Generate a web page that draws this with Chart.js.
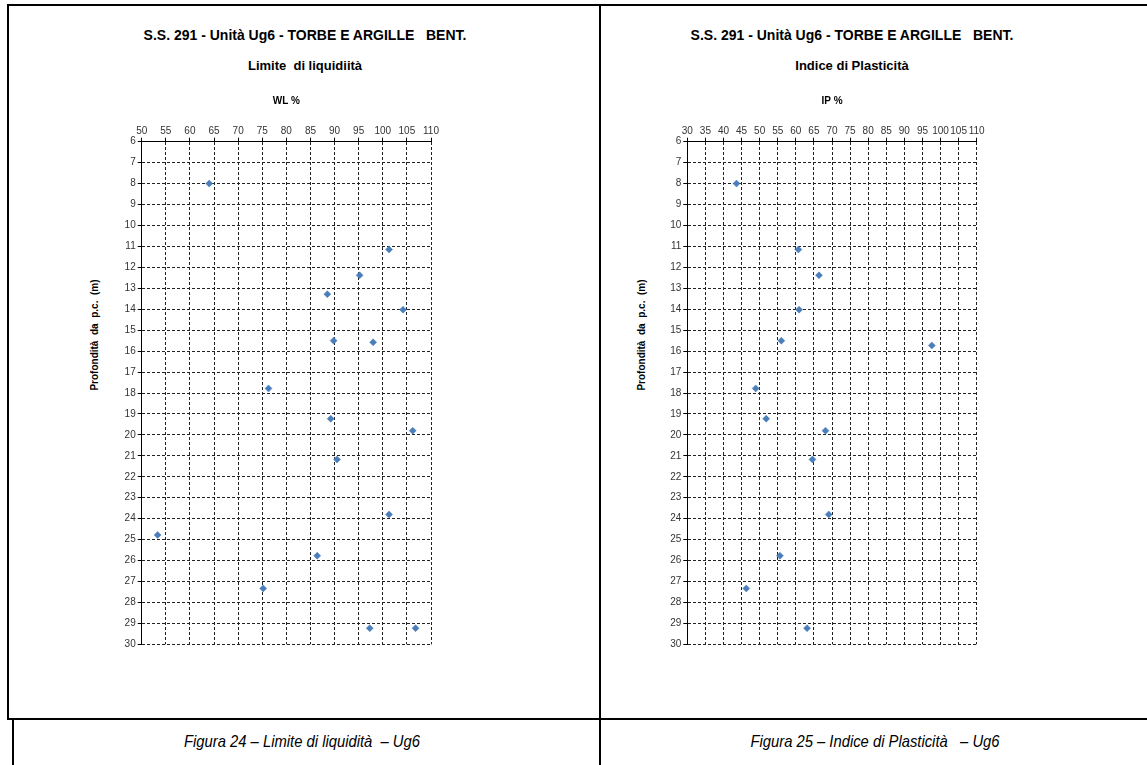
<!DOCTYPE html>
<html>
<head>
<meta charset="utf-8">
<title>Ug6 - Limite di liquidità / Indice di Plasticità</title>
<script src="https://cdn.jsdelivr.net/npm/chart.js@4/dist/chart.umd.min.js"></script>
<style>
body { margin:0; width:1147px; height:765px; position:relative; overflow:hidden; background:#fff;
       font-family:"Liberation Sans", Arial, sans-serif; color:#000; }
.rule { position:absolute; background:#000; }
.head { position:absolute; width:400px; text-align:center; font-weight:bold; font-size:14px; line-height:16px; white-space:pre; }
.side { position:absolute; font-weight:bold; font-size:10px; white-space:pre; transform:translate(-50%,-50%) rotate(-90deg); }
.caption { position:absolute; top:731px; line-height:22px; text-align:center; font-style:italic; font-size:17px;
           white-space:pre; transform:scaleX(0.87); }
canvas { position:absolute; }
</style>
</head>
<body>

<!-- table lines -->
<div class="rule" style="left:7px;top:4px;width:1140px;height:2px"></div>
<div class="rule" style="left:7px;top:4px;width:2px;height:716px"></div>
<div class="rule" style="left:599px;top:4px;width:2px;height:761px"></div>
<div class="rule" style="left:7px;top:718px;width:1140px;height:2px"></div>
<div class="rule" style="left:12px;top:720px;width:2px;height:45px"></div>

<!-- left panel -->
<div class="head" style="left:105px;top:27px">S.S. 291 - Unità Ug6 - TORBE E ARGILLE   BENT.</div>
<div class="head" style="left:105px;top:58px;font-size:13px">Limite  di liquidiità</div>
<div class="side" style="left:94px;top:335px">Profondità  da  p.c.  (m)</div>
<canvas id="chartWL" width="360" height="570" style="left:90px;top:85px"></canvas>

<!-- right panel -->
<div class="head" style="left:652px;top:27px">S.S. 291 - Unità Ug6 - TORBE E ARGILLE   BENT.</div>
<div class="head" style="left:652px;top:58px;font-size:13px">Indice di Plasticità</div>
<div class="side" style="left:641px;top:335px">Profondità  da  p.c.  (m)</div>
<canvas id="chartIP" width="360" height="570" style="left:640px;top:85px"></canvas>

<div class="caption" style="left:9px;width:586px">Figura 24 – Limite di liquidità  – Ug6</div>
<div class="caption" style="left:602px;width:546px">Figura 25 – Indice di Plasticità   – Ug6</div>

<script>
// Limite di liquidità (WL %) against depth (m)
var wlDepth = [8.0, 11.15, 12.38, 13.28, 14.02, 15.5, 15.58, 17.78, 19.23, 19.8, 21.17, 23.8, 24.78, 25.77, 27.33, 29.23, 29.23];
var wlValue = [64.0, 101.3, 95.2, 88.5, 104.2, 89.8, 98.0, 76.3, 89.2, 106.2, 90.5, 101.3, 53.3, 86.4, 75.2, 97.3, 106.8];

// Indice di plasticità (IP %) against depth (m)
var ipDepth = [8.0, 11.15, 12.38, 14.02, 15.5, 15.73, 17.78, 19.23, 19.8, 21.17, 23.8, 25.77, 27.33, 29.23];
var ipValue = [43.6, 60.7, 66.4, 60.9, 56.0, 97.6, 48.9, 51.8, 68.2, 64.6, 69.1, 55.6, 46.3, 63.1];

// axis ranges
var wlRange = [50, 110];
var ipRange = [30, 110];
var depthRange = [6, 30];

var tickFont = { family: '"Liberation Sans", Arial, sans-serif', size: 10 };

function toPoints(xs, ys) {
    var pts = [];
    for (var i = 0; i < xs.length; i++) pts.push({ x: xs[i], y: ys[i] });
    return pts;
}

function makeChart(id, xs, ys, range, xTitle, axisWidth, rightPad) {
    var ctx = document.getElementById(id).getContext('2d');
    return new Chart(ctx, {
        type: 'scatter',
        data: {
            datasets: [{
                label: xTitle,
                data: toPoints(xs, ys),
                pointStyle: 'rectRot',
                pointRadius: 3.5,
                pointBorderWidth: 0.5,
                backgroundColor: '#4a7ebb',
                borderColor: '#4a7ebb'
            }]
        },
        options: {
            responsive: false,
            animation: false,
            layout: { padding: { left: 0, top: 0, right: rightPad, bottom: 10.7 } },
            plugins: { legend: { display: false }, tooltip: { enabled: false } },
            scales: {
                x: {
                    type: 'linear',
                    position: 'top',
                    min: range[0], max: range[1],
                    afterFit: function(scale) { scale.height = 56.7; },
                    ticks: { stepSize: 5, autoSkip: false, maxRotation: 0, padding: 0, color: '#333', font: tickFont },
                    grid: { color: '#222', tickLength: 4, tickColor: '#000' },
                    border: { display: true, color: '#000', width: 1, dash: [3, 2] },
                    title: { display: true, text: xTitle, color: '#000',
                             font: { family: '"Liberation Sans", Arial, sans-serif', size: 10, weight: 'bold' },
                             padding: { top: 10, bottom: 0 } }
                },
                y: {
                    type: 'linear',
                    reverse: true,
                    min: depthRange[0], max: depthRange[1],
                    afterFit: function(scale) { scale.width = axisWidth; },
                    ticks: { stepSize: 1, autoSkip: false, padding: 2, color: '#333', font: tickFont },
                    grid: { color: '#222', tickLength: 4, tickColor: '#000' },
                    border: { display: true, color: '#000', width: 1, dash: [3, 2] }
                }
            }
        }
    });
}

window.onload = function() {
    makeChart('chartWL', wlValue, wlDepth, wlRange, 'WL %', 51.7, 19);
    makeChart('chartIP', ipValue, ipDepth, ipRange, 'IP %', 47.3, 23.3);
};
</script>
</body>
</html>
